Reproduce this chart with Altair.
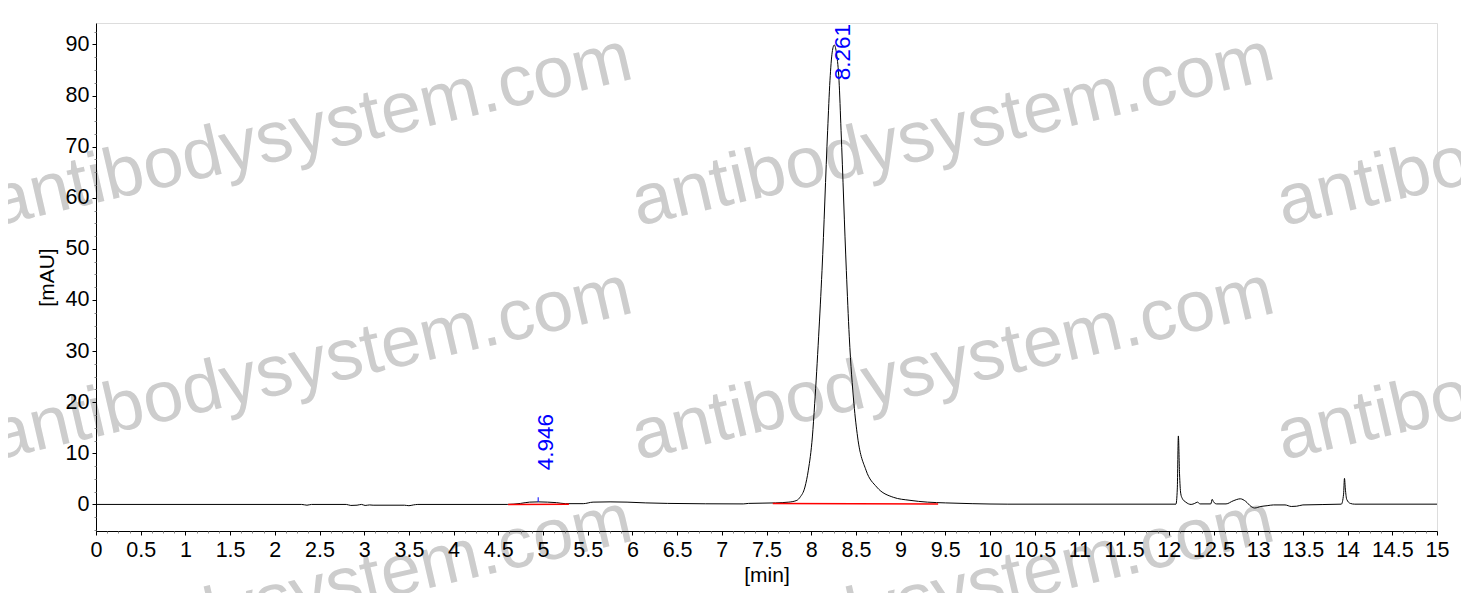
import altair as alt
import pandas as pd

# ---- chromatogram trace ----
times = [0.0, 2.30, 2.36, 2.41, 2.80, 2.85, 2.92, 2.97, 3.01, 3.06, 3.10, 3.45, 3.50, 3.55, 3.60,
         4.60, 4.75, 4.85, 4.95, 5.05, 5.15, 5.25, 5.45, 5.56, 5.75, 5.94, 6.15, 6.39, 7.24, 7.30,
         7.45, 7.60, 7.75, 7.84, 7.875, 7.93, 7.968, 8.013, 8.039, 8.083, 8.121, 8.184, 8.21, 8.235,
         8.258, 8.285, 8.311, 8.334, 8.393, 8.426, 8.478, 8.519, 8.613, 8.733, 8.918, 9.105, 9.30,
         9.50, 9.80, 10.20, 12.08, 12.095, 12.107, 12.12, 12.133, 12.15, 12.19, 12.25, 12.29, 12.32,
         12.35, 12.47, 12.485, 12.50, 12.535, 12.64, 12.72, 12.80, 12.86, 12.92, 12.96, 13.03, 13.10,
         13.17, 13.30, 13.37, 13.43, 13.50, 13.93, 13.955, 13.965, 13.975, 13.99, 14.03, 14.08, 15.0]
signal = [0.0, 0.0, -0.15, 0.0, 0.0, -0.2, -0.15, 0.0, -0.2, -0.1, -0.15, -0.15, -0.25, -0.1, 0.0,
          0.0, 0.2, 0.45, 0.5, 0.45, 0.35, 0.15, 0.15, 0.45, 0.5, 0.45, 0.3, 0.2, 0.1, 0.2,
          0.25, 0.3, 0.45, 0.8, 1.4, 3.4, 6.7, 13.2, 19.7, 32.8, 45.8, 73.2, 83.0, 88.5,
          89.9, 88.0, 83.0, 73.2, 45.8, 32.8, 19.7, 13.2, 6.7, 3.4, 1.4, 0.8, 0.45,
          0.3, 0.15, 0.05, 0.05, 3.0, 13.4, 6.0, 2.2, 1.2, 0.45, 0.0, 0.2, 0.45,
          0.1, 0.1, 1.0, 0.5, 0.1, 0.1, 0.7, 1.1, 0.6, -0.4, -0.7, -0.4, -0.25,
          -0.1, -0.1, -0.4, -0.35, -0.1, 0.05, 2.0, 5.1, 3.0, 1.0, 0.2, 0.05, 0.05]

# ---- integrated peaks ----
peak_rt = [4.946, 8.261]
peak_labels = ["4.946", "8.261"]
label_y = [6.7, 83.0]
peak_tick_lo = [0.5, 89.9]
peak_tick_hi = [1.4, 89.9]
base_t0 = [4.61, 7.57]
base_t1 = [5.29, 9.42]
base_v0 = [0.0, 0.2]
base_v1 = [0.05, 0.1]

# ---- axes ----
x_major = [i * 0.5 for i in range(31)]
x_minor = [i * 0.125 for i in range(121) if i % 4 != 0]
y_major = [i * 10 for i in range(10)]
y_minor = [v for v in [-5.0 + i * 2.5 for i in range(40)] if v % 10 != 0]
y_domain = [-5.2, 94.2]
x_domain = [0, 15]

FONT = "Liberation Sans"
W, H = 1341, 508

trace = pd.DataFrame({"t": times, "v": signal})
peaks = pd.DataFrame({"t": peak_rt, "lab": peak_labels, "ly": label_y,
                      "lo": peak_tick_lo, "hi": peak_tick_hi})
bases = pd.DataFrame({"t0": base_t0, "t1": base_t1, "v0": base_v0, "v1": base_v1})

xs = alt.Scale(domain=x_domain, nice=False, zero=False)
ys = alt.Scale(domain=y_domain, nice=False, zero=False)

# watermarks
wm_layers = []
for wx in [-100, 542, 1187]:
    for wy in [203, 437, 665]:
        wm_layers.append(
            alt.Chart(pd.DataFrame({"w": ["antibodysystem.com"]}))
            .mark_text(font=FONT, fontSize=72, color="#cdcdcd", angle=347,
                       align="left", baseline="alphabetic")
            .encode(x=alt.value(wx), y=alt.value(wy), text="w:N")
        )

line = alt.Chart(trace).mark_line(color="black", strokeWidth=1, interpolate="monotone").encode(
    x=alt.X("t:Q", scale=xs, axis=alt.Axis(
        values=x_major, format=".1~f", orient="bottom", title="[min]", zindex=2,
        labelFont=FONT, labelFontSize=21.5, labelColor="black", labelPadding=4,
        tickSize=4, tickColor="black", domainColor="black", grid=False,
        titleFont=FONT, titleFontSize=21, titleFontWeight="normal", titleColor="black",
        titlePadding=4, labelFlush=False)),
    y=alt.Y("v:Q", scale=ys, axis=alt.Axis(
        values=y_major, format="d", orient="left", title="[mAU]", zindex=2,
        labelFont=FONT, labelFontSize=21.5, labelColor="black", labelPadding=3,
        tickSize=4, tickColor="black", domainColor="black", grid=False,
        titleFont=FONT, titleFontSize=21, titleFontWeight="normal", titleColor="black",
        titlePadding=8)),
)

minor = alt.Chart(trace).mark_line(opacity=0).encode(
    x=alt.X("t:Q", scale=xs, axis=alt.Axis(
        values=x_minor, orient="bottom", labels=False, domain=False, grid=False, zindex=2,
        tickSize=2, tickColor="#888888", title=None)),
    y=alt.Y("v:Q", scale=ys, axis=alt.Axis(
        values=y_minor, orient="left", labels=False, domain=False, grid=False, zindex=2,
        tickSize=2, tickColor="#888888", title=None)),
)

base_rules = alt.Chart(bases).mark_rule(color="#ff0000", strokeWidth=1.5).encode(
    x=alt.X("t0:Q", scale=xs, axis=None), x2="t1:Q",
    y=alt.Y("v0:Q", scale=ys, axis=None), y2="v1:Q",
)

peak_ticks = alt.Chart(peaks.iloc[:1]).mark_rule(color="#0000ff", strokeWidth=1).encode(
    x=alt.X("t:Q", scale=xs, axis=None),
    y=alt.Y("lo:Q", scale=ys, axis=None), y2="hi:Q",
)

labels = alt.Chart(peaks).mark_text(font=FONT, fontSize=22.5, color="#0000ff", angle=270,
                                    align="left", baseline="top", dy=-3).encode(
    x=alt.X("t:Q", scale=xs, axis=None),
    y=alt.Y("ly:Q", scale=ys, axis=None),
    text="lab:N",
)

chart = alt.layer(*wm_layers, line, minor, base_rules, peak_ticks, labels).resolve_axis(
    x="independent", y="independent"
).properties(
    width=W, height=H,
    autosize=alt.AutoSizeParams(type="none"),
    padding={"left": 88, "top": 15, "right": 24, "bottom": 62},
).configure_view(stroke="#555555", strokeWidth=1).configure(background="white")

chart.save("out.html", embed_options={"renderer": "svg", "actions": False})
